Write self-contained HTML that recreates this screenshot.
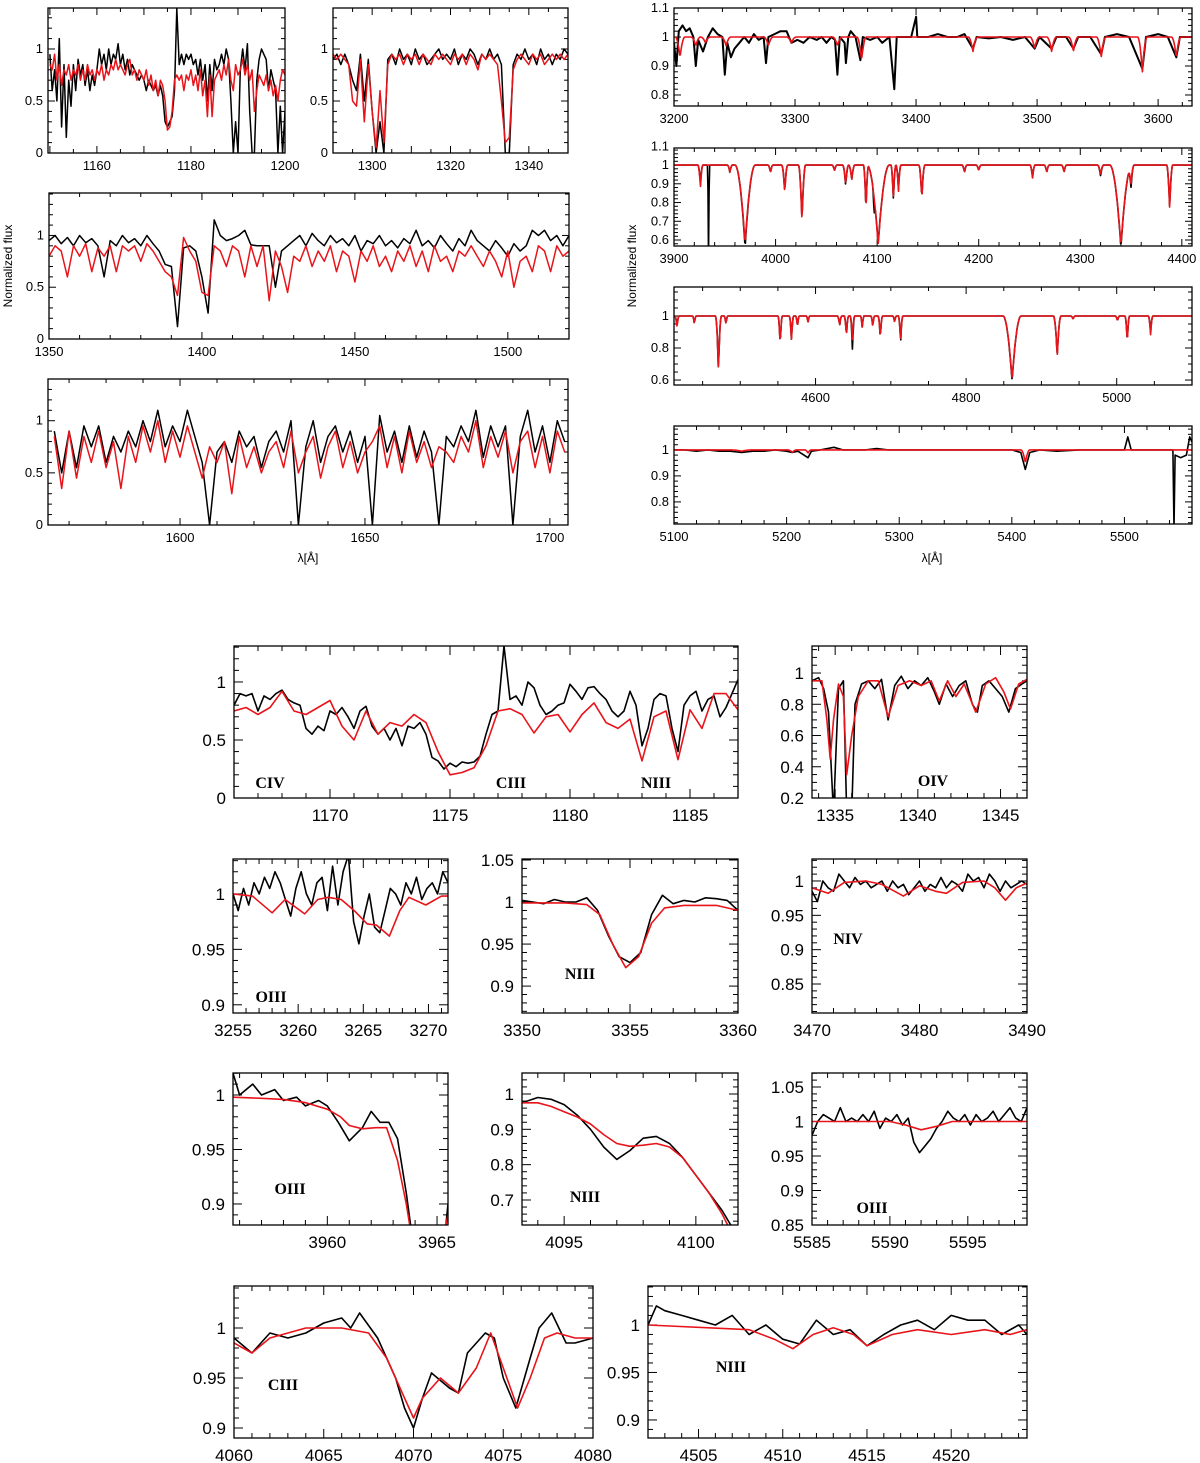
<!DOCTYPE html>
<html><head><meta charset="utf-8"><title>Spectra fit</title>
<style>
html,body{margin:0;padding:0;background:#fff;}
svg{display:block;}
text{font-family:"Liberation Sans",sans-serif;fill:#000;}
.ion{font-family:"Liberation Serif",serif;font-weight:bold;}
</style></head>
<body>
<svg id="fig" width="1200" height="1463" viewBox="0 0 1200 1463" xmlns="http://www.w3.org/2000/svg">
<rect x="0" y="0" width="1200" height="1463" fill="#fff"/>
<text x="12" y="266" font-size="12" text-anchor="middle" transform="rotate(-90 12 266)">Normalized flux</text>
<text x="636" y="266" font-size="12" text-anchor="middle" transform="rotate(-90 636 266)">Normalized flux</text>
<text x="308" y="562" font-size="12" text-anchor="middle">λ[Å]</text>
<text x="932" y="562" font-size="12" text-anchor="middle">λ[Å]</text>
</svg>
<script>
// ---------- DATA ----------
const p1XLabels=[1160,1180,1200]; const p1YLabels=["0","0.5","1"];
const p1BlackStart=1150, p1BlackEnd=1200;
const p1Black=[0.95,0.6,0.8,0.5,1.1,0.25,0.85,0.15,0.7,0.45,0.85,0.6,0.9,0.75,0.85,0.65,0.8,0.6,0.75,0.65,0.8,1.0,0.85,0.95,0.8,1.0,0.85,0.95,0.9,1.05,0.85,0.95,0.8,0.9,0.75,0.85,0.8,0.75,0.7,0.75,0.7,0.6,0.7,0.65,0.6,0.65,0.55,0.65,0.55,0.3,0.25,0.3,0.35,0.6,1.39,0.85,0.95,0.85,0.95,0.9,0.95,0.85,0.9,0.75,0.9,0.7,0.85,0.5,0.85,0.6,0.9,0.8,0.85,0.95,0.85,1.0,0.9,0.5,0.0,0.3,0.0,0.8,1.0,0.8,1.05,0.4,0.0,0.0,0.7,0.9,1.0,0.95,0.9,0.6,0.8,0.7,0.6,0.0,0.45,0.0,0.4];
const p1RedStart=1150, p1RedEnd=1200;
const p1Red=[0.85,0.8,0.95,0.7,0.85,0.65,0.8,0.75,0.85,0.7,0.8,0.75,0.85,0.7,0.8,0.7,0.85,0.75,0.8,0.7,0.8,0.75,0.85,0.7,0.8,0.75,0.85,0.8,0.9,0.8,0.85,0.8,0.75,0.85,0.9,0.75,0.8,0.7,0.8,0.75,0.7,0.8,0.65,0.75,0.6,0.7,0.55,0.7,0.65,0.5,0.22,0.25,0.4,0.7,0.75,0.7,0.75,0.6,0.75,0.7,0.8,0.65,0.75,0.6,0.8,0.55,0.7,0.35,0.75,0.35,0.7,0.75,0.8,0.7,0.85,0.75,0.9,0.7,0.6,0.85,0.75,0.8,0.9,0.75,0.85,0.7,0.8,0.4,0.6,0.75,0.7,0.65,0.75,0.6,0.7,0.55,0.65,0.5,0.7,0.8,0.75];

const p2XLabels=[1300,1320,1340]; const p2YLabels=["0","0.5","1"];
const p2Start=1290, p2End=1350;
const p2Black=[0.9,0.95,0.85,0.95,0.85,0.7,0.6,0.95,0.5,0.9, 0.4,0.0,0.3,0.0,0.9,0.95,0.85,1.0,0.9,0.95, 0.85,1.0,0.9,0.95,0.85,0.9,0.95,1.0,0.9,0.95, 0.9,1.0,0.85,0.95,0.9,1.0,0.95,0.85,0.95,0.9, 1.0,0.9,0.95,0.85,0.0,0.0,0.85,0.95,0.9,1.0, 0.9,0.95,0.85,1.0,0.9,0.95,0.85,0.95,0.9,1.0,0.95];
const p2Red=[0.95,0.9,0.95,0.9,0.85,0.5,0.45,0.9,0.3,0.85, 0.4,0.05,0.6,0.1,0.85,0.95,0.9,0.95,0.85,0.95, 0.9,0.95,0.85,0.95,0.9,0.85,0.95,0.9,0.95,0.9, 0.85,0.95,0.9,0.95,0.85,0.95,0.9,0.8,0.95,0.9, 0.95,0.9,0.85,0.5,0.1,0.15,0.8,0.9,0.95,0.9, 0.85,0.95,0.9,0.95,0.85,0.9,0.95,0.9,0.95,0.9,0.95];

const p3XLabels=[1350,1400,1450,1500]; const p3YLabels=["0","0.5","1"];
const p3Start=1350, p3End=1520;
const p3Black=[0.95,1.0,0.92,0.98,0.9,1.0,0.93,0.97,0.9,0.6, 0.95,0.9,1.0,0.93,0.97,0.9,1.0,0.92,0.85,0.72, 0.7,0.12,0.88,0.9,0.85,0.6,0.25,1.15,1.0,0.95, 0.97,1.0,1.05,0.91,0.9,0.9,0.9,0.5,0.85,0.9, 0.95,1.0,0.9,1.02,0.95,0.9,1.0,0.93,0.97,0.9, 1.0,0.85,0.95,0.92,1.0,0.9,0.95,0.88,0.97,0.92, 1.05,0.9,0.95,0.88,1.0,0.92,0.85,0.97,0.9,1.05, 0.95,0.9,0.85,0.95,0.88,0.8,0.92,0.85,0.9,1.05, 1.0,1.05,0.95,1.0,0.9,1.0];
const p3Red=[0.8,0.9,0.85,0.6,0.9,0.8,0.92,0.65,0.88,0.8, 0.9,0.65,0.9,0.85,0.9,0.75,0.92,0.85,0.75,0.65, 0.6,0.42,0.98,0.85,0.75,0.45,0.42,0.9,0.85,0.7, 0.9,0.85,0.6,0.9,0.7,0.9,0.37,0.85,0.7,0.45, 0.8,0.75,0.9,0.7,0.85,0.75,0.9,0.65,0.85,0.8, 0.55,0.85,0.75,0.9,0.7,0.8,0.65,0.85,0.75,0.9, 0.7,0.85,0.65,0.9,0.75,0.8,0.65,0.85,0.8,0.9, 0.8,0.7,0.85,0.75,0.6,0.85,0.5,0.75,0.8,0.65, 0.9,0.85,0.65,0.9,0.8,0.85];

const p4XLabels=[1600,1650,1700]; const p4YLabels=["0","0.5","1"];
const p4Start=1566, p4End=1704;
const p4Black=[0.9,0.5,0.9,0.55,0.95,0.75,0.95,0.6,0.85,0.7, 0.9,0.75,1.0,0.8,1.1,0.75,0.95,0.8,1.1,0.85, 0.6,0.0,0.7,0.8,0.6,0.9,0.75,0.85,0.55,0.8, 0.9,0.7,1.0,0.0,0.75,1.0,0.6,0.85,0.95,0.7, 0.9,0.6,0.85,0.0,1.05,0.7,0.9,0.6,0.95,0.65, 0.9,0.7,0.0,0.85,0.75,0.95,0.8,1.1,0.65,0.95, 0.75,0.95,0.0,0.85,1.1,0.7,0.95,0.6,1.0,0.8];
const p4Red=[0.85,0.35,0.9,0.45,0.85,0.6,0.9,0.55,0.8,0.35, 0.85,0.6,0.95,0.7,1.0,0.6,0.9,0.65,0.95,0.7, 0.45,0.75,0.6,0.8,0.3,0.85,0.55,0.75,0.5,0.7, 0.8,0.55,0.9,0.5,0.7,0.85,0.45,0.75,0.9,0.55, 0.8,0.5,0.7,0.8,0.95,0.55,0.85,0.5,0.9,0.6, 0.8,0.55,0.75,0.7,0.6,0.85,0.7,1.0,0.55,0.85, 0.65,0.9,0.5,0.8,0.9,0.55,0.85,0.5,0.9,0.7];

const r1XLabels=[3200,3300,3400,3500,3600]; const r1YLabels=["0.8","0.9","1","1.1"];
const r1BlackW=[3200,3202,3204,3207,3210,3213,3216,3218,3220,3224,3228,3232,3236,3240,3242,3244,3247,3250,3254,3258,3262,3266,3270,3274,3276,3278,3283,3288,3293,3297,3302,3307,3312,3318,3322,3326,3330,3333,3335,3337,3341,3342,3344,3346,3350,3354,3356,3362,3368,3372,3378,3382,3384,3390,3396,3400,3401,3410,3418,3426,3434,3440,3447,3450,3460,3470,3480,3490,3498,3502,3512,3516,3524,3530,3534,3544,3553,3556,3566,3576,3587,3590,3600,3608,3615,3618,3630];
const r1BlackF=[0.98,0.9,1.02,1.04,1.02,1.03,1.0,0.9,0.99,0.95,1.0,1.03,1.01,1.0,0.87,0.98,0.93,0.96,0.98,1.0,0.98,1.01,0.99,1.0,0.91,1.0,1.01,1.02,1.02,0.98,0.99,0.98,1.0,0.99,1.0,0.98,1.0,0.99,0.87,1.0,0.98,0.91,1.0,1.02,1.0,0.92,1.0,0.99,1.0,0.98,1.0,0.82,1.0,1.0,1.0,1.07,1.0,1.0,1.01,1.0,1.0,1.01,0.96,1.0,0.995,1.0,0.99,1.0,0.96,1.0,0.96,1.0,1.0,0.96,1.0,1.0,0.94,1.0,1.01,1.0,0.89,1.0,1.01,1.0,0.93,1.0,1.0];
const r1RedCenters=[3205,3218,3226,3243,3278,3297,3335,3355,3447,3498,3512,3530,3553,3587,3615];
const r1RedDepths=[0.07,0.03,0.02,0.03,0.03,0.02,0.03,0.08,0.05,0.04,0.05,0.05,0.07,0.12,0.07];

const r2XLabels=[3900,4000,4100,4200,4300,4400]; const r2YLabels=["0.6","0.7","0.8","0.9","1","1.1"];
const r2RedCenters=[3926,3955,3970,3995,4009,4026,4058,4069,4075,4089,4101,4116,4121,4144,4186,4200,4253,4267,4284,4320,4340,4350,4388];
const r2RedDepths=[0.12,0.04,0.42,0.04,0.15,0.31,0.03,0.1,0.08,0.25,0.43,0.18,0.14,0.18,0.04,0.03,0.07,0.04,0.04,0.05,0.43,0.1,0.24];
const r2RedWidths=[2.5,2.5,10,2.5,3,3.5,2.5,3,3,2.5,11,2.5,2.5,3,2.5,2.5,2.5,2.5,2.5,3,11,3,3];
const r2BlackCenters=[3926,3934,3955,3970,3995,4009,4026,4058,4069,4075,4089,4097,4101,4116,4121,4144,4186,4200,4253,4267,4284,4320,4340,4350,4388];
const r2BlackDepths=[0.1,0.5,0.04,0.44,0.04,0.14,0.3,0.03,0.11,0.08,0.25,0.1,0.42,0.19,0.13,0.18,0.04,0.03,0.07,0.04,0.04,0.06,0.44,0.12,0.23];
const r2BlackWidths=[2.5,1.2,2.5,10,2.5,3,3.5,2.5,3,3,2.5,1.5,11,2.5,2.5,3,2.5,2.5,2.5,2.5,2.5,3,11,3,3];

const r3XLabels=[4600,4800,5000]; const r3YLabels=["0.6","0.8","1"];
const r3RedCenters=[4416,4439,4471,4481,4553,4568,4576,4590,4632,4641,4649,4662,4676,4686,4705,4713,4861,4921,4942,5001,5014,5045];
const r3RedDepths=[0.07,0.05,0.34,0.05,0.18,0.15,0.07,0.04,0.06,0.13,0.15,0.07,0.07,0.14,0.04,0.16,0.4,0.25,0.02,0.03,0.17,0.12];
const r3RedWidths=[3,2.5,4,2.5,3,3,2.5,2.5,3,3,3,2.5,2.5,3,2.5,3,12,5,3,3,3,3];
const r3BlackDepths=[0.06,0.05,0.34,0.05,0.18,0.15,0.07,0.04,0.06,0.12,0.21,0.07,0.07,0.14,0.04,0.17,0.41,0.25,0.02,0.03,0.17,0.11];

const r4XLabels=[5100,5200,5300,5400,5500]; const r4YLabels=["0.8","0.9","1"];
const r4RedCenters=[5160,5205,5219,5412];
const r4RedDepths=[0.005,0.01,0.012,0.05];
const r4RedWidths=[10,4,3,4];
const r4BlackW=[5100,5110,5120,5130,5140,5150,5160,5170,5180,5190,5200,5205,5210,5219,5222,5230,5242,5250,5260,5270,5280,5290,5300,5320,5340,5360,5380,5400,5408,5412,5416,5425,5440,5460,5480,5500,5503,5506,5520,5535,5543,5544,5545,5550,5555,5558,5560];
const r4BlackF=[1.0,1.0,0.995,1.0,0.995,0.995,0.99,0.995,0.995,1.0,0.995,0.99,0.995,0.97,0.995,1.0,1.01,1.0,1.0,1.0,1.005,1.0,1.0,1.0,1.0,1.0,1.0,1.0,0.99,0.925,0.99,1.0,0.995,1.0,1.0,1.0,1.05,1.0,1.0,1.0,1.0,0.7,0.98,0.97,0.98,1.05,1.03];

const b1XLabels=[1170,1175,1180,1185]; const b1YLabels=["0","0.5","1"];
const b1Start=1166, b1End=1187;
const b1Black=[0.8,0.9,0.88,0.9,0.75,0.88,0.85,0.9,0.93,0.85,0.82,0.8,0.6,0.55,0.62,0.58,0.75,0.72,0.78,0.7,0.6,0.75,0.79,0.62,0.55,0.6,0.5,0.6,0.45,0.62,0.6,0.65,0.55,0.35,0.32,0.25,0.3,0.27,0.31,0.3,0.31,0.36,0.55,0.72,0.75,1.31,0.85,0.88,0.8,1.0,0.95,0.8,0.72,0.75,0.8,0.82,0.98,0.92,0.85,0.95,0.96,0.9,0.85,0.75,0.7,0.75,0.92,0.8,0.45,0.6,0.85,0.9,0.88,0.6,0.4,0.8,0.88,0.92,0.75,0.85,0.88,0.7,0.78,0.9,1.02];
const b1Red=[0.75,0.78,0.72,0.78,0.92,0.75,0.72,0.78,0.84,0.62,0.5,0.75,0.55,0.65,0.62,0.72,0.65,0.4,0.2,0.22,0.26,0.45,0.75,0.77,0.72,0.56,0.7,0.72,0.57,0.72,0.82,0.65,0.6,0.68,0.32,0.7,0.75,0.33,0.76,0.6,0.9,0.9,0.76];

const b2XLabels=[1335,1340,1345]; const b2YLabels=["0.2","0.4","0.6","0.8","1"];
const b2BlackW=[1333.6,1334,1334.3,1334.6,1334.9,1335.2,1335.5,1335.7,1336.0,1336.2,1336.6,1337,1337.4,1337.8,1338.2,1338.6,1339,1339.4,1339.8,1340.2,1340.6,1341,1341.3,1341.7,1342.1,1342.5,1342.9,1343.3,1343.6,1343.9,1344.3,1344.7,1345.1,1345.5,1345.9,1346.3,1346.6];
const b2BlackF=[0.95,0.97,0.9,0.75,0.1,0.9,0.95,0.1,0.1,0.8,0.93,0.95,0.9,0.96,0.7,0.92,0.98,0.9,0.95,0.92,0.97,0.88,0.8,0.93,0.85,0.92,0.95,0.8,0.75,0.92,0.95,0.9,0.85,0.75,0.9,0.93,0.95];
const b2RedW=[1333.6,1334.2,1334.5,1334.7,1334.9,1335.2,1335.5,1335.7,1336,1336.4,1337,1337.6,1338.2,1338.8,1339.5,1340.2,1340.8,1341.3,1341.8,1342.3,1342.8,1343.5,1344.1,1344.7,1345.2,1345.6,1346.1,1346.6];
const b2RedF=[0.95,0.95,0.7,0.45,0.7,0.93,0.85,0.35,0.6,0.85,0.95,0.95,0.72,0.92,0.95,0.92,0.95,0.82,0.95,0.85,0.93,0.75,0.93,0.97,0.88,0.77,0.93,0.96];

const b3XLabels=[3255,3260,3265,3270]; const b3YLabels=["0.9","0.95","1"];
const b3Start=3255, b3End=3271.5;
const b3Black=[1.0,0.985,1.005,0.99,1.01,1.0,1.015,1.005,1.02,1.01,0.995,0.98,1.005,1.02,1.0,0.99,1.01,1.015,0.985,1.025,0.99,1.02,1.035,0.975,0.955,0.98,1.0,0.97,0.965,0.985,1.005,1.0,0.99,1.01,1.0,1.015,0.995,1.005,1.01,1.0,1.02,1.01];
const b3RedW=[3255,3256.5,3258,3259,3260.5,3261.5,3262.3,3263.3,3264.3,3265.3,3266,3267,3267.8,3268.5,3269.8,3271,3271.5];
const b3RedF=[1.0,0.998,0.983,0.995,0.982,0.995,0.997,0.995,0.985,0.973,0.972,0.962,0.985,0.997,0.99,0.998,0.998];

const b4XLabels=[3350,3355,3360]; const b4YLabels=["0.9","0.95","1","1.05"];
const b4BlackW=[3350,3350.5,3351,3351.5,3352,3352.5,3353,3353.5,3354,3354.5,3355,3355.5,3356,3356.5,3357,3357.5,3358,3358.5,3359,3359.5,3360];
const b4BlackF=[1.002,1.0,0.998,1.003,1.0,1.0,1.005,0.99,0.96,0.935,0.928,0.94,0.985,1.008,0.998,1.002,1.0,1.005,1.004,1.002,0.99];
const b4RedW=[3350,3352,3353,3353.6,3354.2,3354.8,3355.4,3356,3356.6,3357.5,3359,3360];
const b4RedF=[0.999,0.999,0.997,0.985,0.95,0.922,0.935,0.975,0.993,0.996,0.996,0.99];

const b5XLabels=[3470,3480,3490]; const b5YLabels=["0.85","0.9","0.95","1"];
const b5Start=3470, b5End=3490;
const b5Black=[0.985,0.97,1.0,0.99,0.985,1.01,1.0,0.99,1.005,0.995,1.0,0.99,0.995,1.0,0.985,1.0,0.99,0.995,0.98,0.99,1.0,0.985,0.995,0.99,1.005,0.99,1.0,0.995,0.985,1.01,1.0,1.005,0.99,1.01,1.0,0.985,1.0,0.99,0.995,1.0,0.995];
const b5RedW=[3470,3471.5,3473,3475,3476.5,3478.5,3480,3481.5,3482.5,3484,3486,3487,3488,3489,3490];
const b5RedF=[0.99,0.982,0.998,1.0,0.995,0.978,0.993,0.985,0.982,0.998,1.0,0.99,0.972,0.99,0.997];

const b6XLabels=[3960,3965]; const b6YLabels=["0.9","0.95","1"];
const b6BlackW=[3955.7,3956,3956.6,3957,3957.6,3958,3958.6,3959,3959.6,3960,3960.5,3961,3961.6,3962,3962.4,3962.8,3963.2,3963.6,3964,3964.4,3965.3,3965.5];
const b6BlackF=[1.02,1.0,1.01,1.0,1.005,0.995,0.998,0.99,0.995,0.99,0.975,0.958,0.97,0.985,0.975,0.975,0.96,0.91,0.85,0.8,0.86,0.9];
const b6RedW=[3955.7,3957,3958,3959,3960,3960.6,3961,3961.6,3962.2,3962.7,3963.2,3963.6,3964,3964.3,3965.3,3965.5];
const b6RedF=[0.998,0.997,0.996,0.993,0.987,0.98,0.972,0.969,0.97,0.97,0.94,0.9,0.85,0.8,0.87,0.89];

const b7XLabels=[4095,4100]; const b7YLabels=["0.7","0.8","0.9","1"];
const b7BlackW=[4093.4,4094,4094.5,4095,4095.5,4096,4096.5,4097,4097.5,4098,4098.5,4099,4099.5,4100,4100.5,4101,4101.4];
const b7BlackF=[0.975,0.99,0.985,0.97,0.94,0.9,0.85,0.815,0.84,0.875,0.88,0.86,0.82,0.77,0.72,0.67,0.62];
const b7RedW=[4093.4,4094,4094.5,4095,4095.5,4096,4096.5,4097,4097.5,4098,4098.5,4099,4099.5,4100,4100.5,4101,4101.2];
const b7RedF=[0.975,0.975,0.965,0.95,0.935,0.915,0.885,0.86,0.852,0.855,0.86,0.85,0.82,0.77,0.72,0.66,0.63];

const b8XLabels=[5585,5590,5595]; const b8YLabels=["0.85","0.9","0.95","1","1.05"];
const b8Start=5585, b8End=5598.8;
const b8Black=[0.98,1.0,1.01,1.005,1.0,1.02,1.0,1.005,1.0,1.01,1.0,1.015,0.99,1.005,1.0,1.01,0.995,1.005,0.97,0.955,0.965,0.975,0.99,1.0,1.015,1.005,1.0,1.01,0.995,1.01,1.0,1.005,1.015,1.0,1.01,1.02,1.005,1.0,1.02];
const b8RedW=[5585,5590,5591,5592,5593,5594,5598.8];
const b8RedF=[1.0,1.0,0.995,0.988,0.993,1.0,1.0];

const b9XLabels=[4060,4065,4070,4075,4080]; const b9YLabels=["0.9","0.95","1"];
const b9BlackW=[4060,4061,4062,4063,4064,4065,4066,4066.5,4067,4068,4069,4069.5,4070,4070.5,4071,4072,4072.5,4073,4074,4074.5,4075,4075.7,4076.5,4077,4077.7,4078.5,4079,4080];
const b9BlackF=[0.99,0.975,0.995,0.99,0.995,1.005,1.01,1.0,1.015,0.99,0.95,0.92,0.9,0.93,0.955,0.94,0.935,0.975,0.995,0.99,0.95,0.92,0.97,1.0,1.015,0.985,0.985,0.99];
const b9RedW=[4060,4061,4062,4063,4064,4066,4067.5,4068.5,4069.5,4070,4070.5,4071.5,4072.5,4073.5,4074.3,4075,4075.8,4076.5,4077.3,4078,4079,4080];
const b9RedF=[0.985,0.975,0.99,0.995,1.0,1.0,0.995,0.97,0.93,0.91,0.93,0.95,0.935,0.96,0.995,0.96,0.92,0.95,0.99,0.995,0.99,0.99];

const b10XLabels=[4505,4510,4515,4520]; const b10YLabels=["0.9","0.95","1"];
const b10BlackW=[4502,4502.5,4503,4504,4505,4506,4507,4508,4509,4510,4511,4512,4513,4514,4515,4516,4517,4518,4519,4520,4521,4522,4523,4524,4524.5];
const b10BlackF=[1.0,1.02,1.015,1.01,1.005,1.0,1.01,0.99,1.0,0.985,0.98,1.005,0.99,0.995,0.978,0.99,1.0,1.005,0.995,1.01,1.005,1.005,0.99,1.0,0.99];
const b10RedW=[4502,4508,4509.5,4510.6,4511.8,4513,4514.2,4515,4516.5,4518,4520,4522,4523.5,4524.5];
const b10RedF=[1.0,0.995,0.985,0.975,0.99,0.997,0.99,0.978,0.99,0.995,0.99,0.995,0.99,0.995];

// ---------- RENDER ----------
const NS="http://www.w3.org/2000/svg";
const svg=document.getElementById('fig');
function grid(s,e,f){const n=f.length;return f.map((v,i)=>[s+(e-s)*i/(n-1),v]);}
function pairs(w,f){return w.map((x,i)=>[x,f[i]]);}
function lineModel(c,d,wd,x0,x1,def){const pts=[];const n=900;for(let i=0;i<=n;i++){const x=x0+(x1-x0)*i/n;let y=1;for(let k=0;k<c.length;k++){const w=(wd?wd[k]:def);const t=Math.abs(x-c[k])/w;if(t<1)y-=d[k]*(1-t)*(1-t);}pts.push([x,y]);}return pts;}

const panels=[
 {id:'p1',box:[48,8,285,153],xd:[1149.6,1200],yd:[0,1.394],xt:[10,5],yt:[0.5,0.1],xl:p1XLabels,yl:p1YLabels,fs:13,lw:1.5,black:grid(p1BlackStart,p1BlackEnd,p1Black),red:grid(p1RedStart,p1RedEnd,p1Red)},
 {id:'p2',box:[333,8,568,153],xd:[1290,1350],yd:[0,1.394],xt:[10,5],yt:[0.5,0.1],xl:p2XLabels,yl:p2YLabels,fs:13,lw:1.5,black:grid(p2Start,p2End,p2Black),red:grid(p2Start,p2End,p2Red)},
 {id:'p3',box:[49,193,569,339],xd:[1350,1520],yd:[0,1.41],xt:[50,10],yt:[0.5,0.1],xl:p3XLabels,yl:p3YLabels,fs:13,lw:1.5,black:grid(p3Start,p3End,p3Black),red:grid(p3Start,p3End,p3Red)},
 {id:'p4',box:[48,379,568,525],xd:[1564.3,1704.9],yd:[0,1.40],xt:[50,10],yt:[0.5,0.1],xl:p4XLabels,yl:p4YLabels,fs:13,lw:1.5,black:grid(p4Start,p4End,p4Black),red:grid(p4Start,p4End,p4Red)},
 {id:'r1',box:[674,8,1192,106],xd:[3200,3628],yd:[0.762,1.1],xt:[100,20],yt:[0.1,0.02],xl:r1XLabels,yl:r1YLabels,fs:13,lw:2,black:pairs(r1BlackW,r1BlackF),red:lineModel(r1RedCenters,r1RedDepths,null,3200,3630,4)},
 {id:'r2',box:[674,148,1192,246],xd:[3900,4410],yd:[0.568,1.091],xt:[100,20],yt:[0.1,0.02],xl:r2XLabels,yl:r2YLabels,fs:13,lw:1.6,black:lineModel(r2BlackCenters,r2BlackDepths,r2BlackWidths,3900,4410),red:lineModel(r2RedCenters,r2RedDepths,r2RedWidths,3900,4410)},
 {id:'r3',box:[674,287,1192,385],xd:[4412,5100],yd:[0.569,1.181],xt:[200,50],yt:[0.2,0.05],xl:r3XLabels,yl:r3YLabels,fs:13,lw:1.6,black:lineModel(r3RedCenters,r3BlackDepths,r3RedWidths,4412,5100),red:lineModel(r3RedCenters,r3RedDepths,r3RedWidths,4412,5100)},
 {id:'r4',box:[674,426,1192,524],xd:[5100,5560],yd:[0.715,1.092],xt:[100,20],yt:[0.1,0.02],xl:r4XLabels,yl:r4YLabels,fs:13,lw:1.6,black:pairs(r4BlackW,r4BlackF),red:lineModel(r4RedCenters,r4RedDepths,r4RedWidths,5100,5560)},
 {id:'b1',box:[234,646,738,798],xd:[1166,1187],yd:[0,1.31],xt:[5,1],yt:[0.5,0.1],xl:b1XLabels,yl:b1YLabels,fs:17,lw:1.6,black:grid(b1Start,b1End,b1Black),red:grid(b1Start,b1End,b1Red),ions:[["CIV",270,788],["CIII",511,788],["NIII",656,788]]},
 {id:'b2',box:[812,646,1027,798],xd:[1333.6,1346.6],yd:[0.2,1.173],xt:[5,1],yt:[0.2,0.05],xl:b2XLabels,yl:b2YLabels,fs:17,lw:1.6,black:pairs(b2BlackW,b2BlackF),red:pairs(b2RedW,b2RedF),ions:[["OIV",933,786]]},
 {id:'b3',box:[233,859,448,1013],xd:[3255,3271.5],yd:[0.8926,1.0315],xt:[5,1],yt:[0.05,0.01],xl:b3XLabels,yl:b3YLabels,fs:17,lw:1.6,black:grid(b3Start,b3End,b3Black),red:pairs(b3RedW,b3RedF),ions:[["OIII",271,1002]]},
 {id:'b4',box:[522,859,738,1013],xd:[3350,3360],yd:[0.868,1.0512],xt:[5,1],yt:[0.05,0.01],xl:b4XLabels,yl:b4YLabels,fs:17,lw:1.6,black:pairs(b4BlackW,b4BlackF),red:pairs(b4RedW,b4RedF),ions:[["NIII",580,979]]},
 {id:'b5',box:[812,859,1027,1013],xd:[3470,3490],yd:[0.8078,1.032],xt:[10,2],yt:[0.05,0.01],xl:b5XLabels,yl:b5YLabels,fs:17,lw:1.6,black:grid(b5Start,b5End,b5Black),red:pairs(b5RedW,b5RedF),ions:[["NIV",848,944]]},
 {id:'b6',box:[233,1073,448,1225],xd:[3955.7,3965.5],yd:[0.8807,1.0202],xt:[5,1],yt:[0.05,0.01],xl:b6XLabels,yl:b6YLabels,fs:17,lw:1.6,black:pairs(b6BlackW,b6BlackF),red:pairs(b6RedW,b6RedF),ions:[["OIII",290,1194]]},
 {id:'b7',box:[522,1073,738,1225],xd:[4093.4,4101.6],yd:[0.6292,1.0594],xt:[5,1],yt:[0.1,0.02],xl:b7XLabels,yl:b7YLabels,fs:17,lw:1.6,black:pairs(b7BlackW,b7BlackF),red:pairs(b7RedW,b7RedF),ions:[["NIII",585,1202]]},
 {id:'b8',box:[812,1073,1027,1225],xd:[5585,5598.8],yd:[0.85,1.0703],xt:[5,1],yt:[0.05,0.01],xl:b8XLabels,yl:b8YLabels,fs:17,lw:1.6,black:grid(b8Start,b8End,b8Black),red:pairs(b8RedW,b8RedF),ions:[["OIII",872,1213]]},
 {id:'b9',box:[234,1286,593,1438],xd:[4060,4080],yd:[0.89,1.042],xt:[5,1],yt:[0.05,0.01],xl:b9XLabels,yl:b9YLabels,fs:17,lw:1.6,black:pairs(b9BlackW,b9BlackF),red:pairs(b9RedW,b9RedF),ions:[["CIII",283,1390]]},
 {id:'b10',box:[648,1286,1027,1438],xd:[4502,4524.5],yd:[0.881,1.041],xt:[5,1],yt:[0.05,0.01],xl:b10XLabels,yl:b10YLabels,fs:17,lw:1.6,black:pairs(b10BlackW,b10BlackF),red:pairs(b10RedW,b10RedF),ions:[["NIII",731,1372]]}
];

function mk(tag,attrs,parent){const e=document.createElementNS(NS,tag);for(const k in attrs)e.setAttribute(k,attrs[k]);(parent||svg).appendChild(e);return e;}

panels.forEach(p=>{
  const [L,T,R,B]=p.box;
  const sx=v=>L+(v-p.xd[0])/(p.xd[1]-p.xd[0])*(R-L);
  const sy=v=>B-(v-p.yd[0])/(p.yd[1]-p.yd[0])*(B-T);
  const g=mk('g',{});
  
  
  const defs=mk('defs',{},g);
  const cp=mk('clipPath',{id:'clip-'+p.id},defs);
  mk('rect',{x:L,y:T,width:R-L,height:B-T},cp);
  const big=p.fs>14;
  const maj=big?9:7, mnr=big?5:4;
  const tg=mk('g',{stroke:'#000','stroke-width':1},g);
  
  
  const eps=1e-6;
  let x=Math.ceil((p.xd[0]-eps)/p.xt[1])*p.xt[1];
  for(;x<=p.xd[1]+eps;x+=p.xt[1]){
    const X=sx(x);const isM=Math.abs(x/p.xt[0]-Math.round(x/p.xt[0]))<1e-4;const len=isM?maj:mnr;
    mk('line',{x1:X,y1:B,x2:X,y2:B-len},tg);mk('line',{x1:X,y1:T,x2:X,y2:T+len},tg);
  }
  let y=Math.ceil((p.yd[0]-eps)/p.yt[1])*p.yt[1];
  for(;y<=p.yd[1]+eps;y+=p.yt[1]){
    const Y=sy(y);const isM=Math.abs(y/p.yt[0]-Math.round(y/p.yt[0]))<1e-4;const len=isM?maj:mnr;
    mk('line',{x1:L,y1:Y,x2:L+len,y2:Y},tg);mk('line',{x1:R,y1:Y,x2:R-len,y2:Y},tg);
  }
  p.xl.forEach(v=>{
    const t=mk('text',{x:sx(v),y:B+(big?23:17),'font-size':p.fs,'text-anchor':'middle'},g);
    
    
    t.textContent=String(v);
  });
  p.yl.forEach(v=>{
    const t=mk('text',{x:L-(big?8:5),y:sy(parseFloat(v))+(big?6:4),'font-size':p.fs,'text-anchor':'end'},g);
    
    
    t.textContent=v;
  });
  const toPts=arr=>arr.map(q=>sx(q[0]).toFixed(1)+','+sy(q[1]).toFixed(1)).join(' ');
  const bl=mk('polyline',{points:toPts(p.black),fill:'none',stroke:'#000','stroke-width':p.lw,'stroke-linejoin':'round','clip-path':'url(#clip-'+p.id+')'},g);
  
  
  const rd=mk('polyline',{points:toPts(p.red),fill:'none',stroke:'#e8141a','stroke-width':Math.min(p.lw,1.6),'stroke-linejoin':'round','clip-path':'url(#clip-'+p.id+')'},g);
  
  
  const fr=mk('rect',{x:L,y:T,width:R-L,height:B-T,fill:'none',stroke:'#000','stroke-width':1.3},g);
  
  
  (p.ions||[]).forEach(a=>{
    const t=mk('text',{x:a[1],y:a[2],'font-size':16,'text-anchor':'middle','class':'ion'},g);
    
    
    t.textContent=a[0];
  });
});
</script>
</body></html>
